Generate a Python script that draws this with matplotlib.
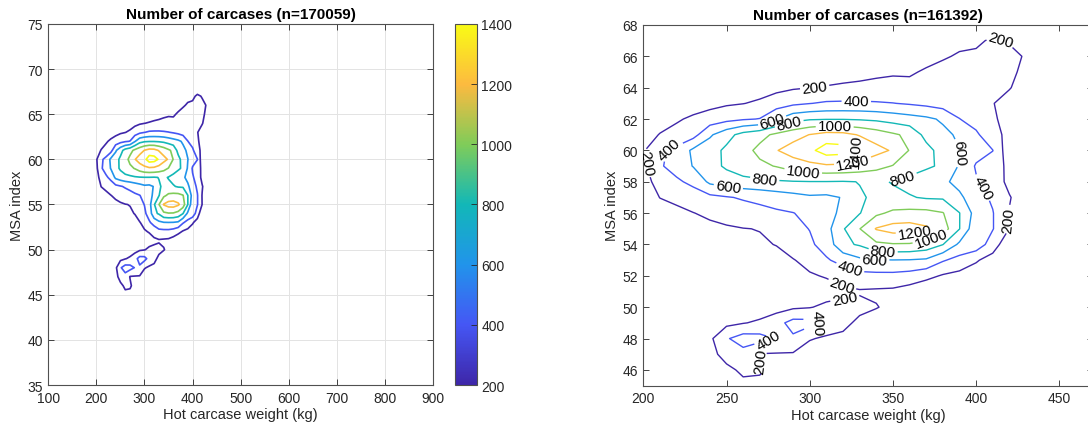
import numpy as np
import matplotlib
matplotlib.use("Agg")
import matplotlib.pyplot as plt
from matplotlib.colors import LinearSegmentedColormap, Normalize
from matplotlib.cm import ScalarMappable

# ---------------- data (binned carcase counts) ----------------
weight_kg = [200, 210, 220, 230, 240, 250, 260, 270, 280, 290, 300, 310, 320,
             330, 340, 350, 360, 370, 380, 390, 400, 410, 420, 430, 440]
msa_index = [45, 46, 47, 48, 49, 50, 51, 52, 53, 54, 55, 56, 57, 58, 59, 60,
             61, 62, 63, 64, 65, 66, 67, 68]

n_msa45 = [0, 0, 0, 10, 40, 100, 150, 140, 60, 30, 10, 0, 0, 0, 0, 0, 0, 0, 0, 0, 0, 0, 0, 0, 0]
n_msa46 = [0, 0, 0, 20, 60, 150, 240, 230, 120, 80, 40, 20, 0, 0, 0, 0, 0, 0, 0, 0, 0, 0, 0, 0, 0]
n_msa47 = [0, 0, 10, 50, 130, 280, 330, 190, 185, 180, 100, 60, 40, 20, 0, 0, 0, 0, 0, 0, 0, 0, 0, 0, 0]
n_msa48 = [0, 0, 20, 80, 160, 380, 490, 470, 390, 370, 215, 170, 150, 100, 50, 20, 0, 0, 0, 0, 0, 0, 0, 0, 0]
n_msa49 = [0, 0, 10, 40, 100, 150, 190, 230, 330, 470, 460, 330, 260, 150, 100, 60, 20, 0, 0, 0, 0, 0, 0, 0, 0]
n_msa50 = [0, 0, 0, 0, 20, 50, 80, 100, 120, 170, 190, 240, 260, 257, 210, 150, 60, 20, 0, 0, 0, 0, 0, 0, 0]
n_msa51 = [0, 0, 0, 0, 10, 20, 30, 50, 80, 120, 150, 120, 150, 180, 170, 160, 110, 40, 20, 0, 0, 0, 0, 0, 0]
n_msa52 = [0, 0, 0, 10, 20, 40, 60, 80, 110, 150, 180, 215, 300, 340, 345, 345, 320, 260, 180, 140, 100, 40, 0, 0, 0]
n_msa53 = [0, 10, 20, 40, 60, 80, 100, 120, 150, 190, 260, 380, 460, 560, 590, 595, 590, 570, 420, 330, 220, 120, 20, 0, 0]
n_msa54 = [10, 30, 60, 80, 110, 130, 150, 180, 205, 290, 370, 470, 760, 820, 960, 985, 980, 930, 805, 560, 522, 300, 50, 10, 0]
n_msa55 = [20, 50, 90, 120, 150, 175, 195, 205, 300, 350, 405, 530, 780, 995, 1213, 1280, 1290, 1230, 1100, 805, 450, 410, 195, 60, 10]
n_msa56 = [30, 90, 140, 195, 240, 280, 310, 340, 370, 395, 450, 540, 640, 790, 960, 1040, 1060, 1060, 1010, 805, 520, 410, 190, 60, 10]
n_msa57 = [60, 205, 260, 310, 350, 385, 420, 450, 490, 530, 570, 560, 610, 790, 815, 840, 815, 780, 775, 640, 480, 370, 215, 70, 10]
n_msa58 = [110, 290, 370, 445, 640, 700, 740, 760, 780, 790, 795, 795, 790, 803, 830, 790, 740, 690, 640, 540, 420, 330, 140, 40, 0]
n_msa59 = [155, 380, 470, 610, 730, 830, 910, 960, 1010, 1090, 1150, 1170, 1160, 1120, 1060, 990, 900, 830, 770, 581, 380, 300, 150, 50, 10]
n_msa60 = [180, 370, 450, 640, 720, 840, 930, 1050, 1190, 1290, 1350, 1500, 1480, 1380, 1260, 1180, 990, 870, 715, 605, 480, 405, 63, 20, 0]
n_msa61 = [110, 210, 270, 327, 570, 730, 870, 940, 1040, 1120, 1205, 1270, 1260, 1185, 1110, 1030, 955, 734, 650, 567, 440, 240, 167, 80, 30]
n_msa62 = [40, 110, 175, 237, 290, 340, 380, 407, 585, 735, 780, 790, 790, 780, 760, 720, 680, 640, 573, 405, 305, 220, 150, 50, 10]
n_msa63 = [0, 20, 60, 100, 140, 175, 195, 230, 300, 360, 395, 425, 430, 430, 420, 405, 380, 350, 310, 280, 250, 210, 100, 30, 0]
n_msa64 = [0, 0, 10, 20, 40, 60, 90, 120, 150, 180, 198, 210, 220, 225, 230, 235, 235, 240, 245, 250, 250, 240, 215, 80, 20]
n_msa65 = [0, 0, 0, 0, 10, 20, 40, 60, 80, 100, 110, 130, 150, 165, 180, 188, 185, 215, 230, 240, 245, 250, 235, 160, 30]
n_msa66 = [0, 0, 0, 0, 0, 0, 10, 20, 30, 45, 60, 70, 90, 100, 115, 125, 140, 160, 190, 210, 230, 245, 230, 190, 60]
n_msa67 = [0, 0, 0, 0, 0, 0, 0, 0, 0, 10, 20, 30, 40, 50, 60, 70, 85, 100, 120, 177, 170, 225, 190, 100, 20]
n_msa68 = [0, 0, 0, 0, 0, 0, 0, 0, 0, 0, 0, 0, 0, 0, 0, 0, 0, 0, 0, 50, 60, 100, 70, 20, 0]

levels = [200, 400, 600, 800, 1000, 1200, 1400]
title_left = "Number of carcases (n=170059)"
title_right = "Number of carcases (n=161392)"
xlabel = "Hot carcase weight (kg)"
ylabel = "MSA index"

counts = np.array([n_msa45, n_msa46, n_msa47, n_msa48, n_msa49, n_msa50, n_msa51,
                   n_msa52, n_msa53, n_msa54, n_msa55, n_msa56, n_msa57, n_msa58,
                   n_msa59, n_msa60, n_msa61, n_msa62, n_msa63, n_msa64, n_msa65,
                   n_msa66, n_msa67, n_msa68], dtype=float)
X, Y = np.meshgrid(weight_kg, msa_index)

# ---------------- style ----------------
parula_pts = [(0.2422, 0.1504, 0.6603), (0.2700, 0.3400, 0.9600),
              (0.1300, 0.5800, 0.9200), (0.0700, 0.7200, 0.7200),
              (0.5000, 0.8000, 0.3500), (0.9900, 0.7300, 0.2500),
              (0.9769, 0.9839, 0.0805)]
parula = LinearSegmentedColormap.from_list("parula", parula_pts)
norm = Normalize(200, 1400)

plt.rcParams["font.family"] = ["Liberation Sans", "DejaVu Sans"]
txt = "#262626"
spine = "#505050"

fig = plt.figure(figsize=(10.88, 4.35), dpi=100)
axL = fig.add_axes([0.0444, 0.1126, 0.3536, 0.830])
cax = fig.add_axes([0.4182, 0.1126, 0.0202, 0.830])
axR = fig.add_axes([0.5913, 0.1113, 0.4129, 0.829])

def style(ax):
    ax.tick_params(direction="in", top=True, right=True, length=4, width=0.6,
                   colors=txt, labelsize=10, pad=4)
    for s in ax.spines.values():
        s.set_color(spine)
        s.set_linewidth(0.8)

# left panel
axL.contour(X, Y, counts, levels=levels, cmap=parula, norm=norm, linewidths=1.2)
axL.set_xlim(100, 900)
axL.set_ylim(35, 75)
axL.set_xticks(range(100, 901, 100))
axL.set_yticks(range(35, 76, 5))
axL.grid(True, color="#e3e3e3", linewidth=0.7)
axL.set_axisbelow(True)
style(axL)
axL.set_title(title_left, fontsize=11, fontweight="bold", pad=4)
axL.set_xlabel(xlabel, fontsize=10.5, color=txt, labelpad=2)
axL.set_ylabel(ylabel, fontsize=10.5, color=txt, labelpad=2)

cb = fig.colorbar(ScalarMappable(norm=norm, cmap=parula), cax=cax, ticks=levels)
cb.outline.set_edgecolor(spine)
cb.outline.set_linewidth(0.8)
cax.tick_params(direction="in", length=4, width=0.6, colors=txt, labelsize=10, pad=3)

# right panel
axR.set_xlim(200, 470)
axR.set_ylim(45, 68)
axR.set_xticks(range(200, 451, 50))
axR.set_yticks(range(46, 69, 2))
style(axR)
axR.set_title(title_right, fontsize=11, fontweight="bold", pad=4)
axR.set_xlabel(xlabel, fontsize=10.5, color=txt, labelpad=2)
axR.set_ylabel(ylabel, fontsize=10.5, color=txt, labelpad=2)

label_spots = {
    200: [(303, 64.0), (414, 66.8), (202, 59.2), (422, 55.6), (319, 51.3), (321, 50.6), (268, 46.5)],
    400: [(328, 63.0), (216, 60.0), (400, 57.4), (324, 52.4), (305, 49.0), (275, 48.0)],
    600: [(278, 61.7), (251, 57.6), (388, 59.9), (339, 53.0)],
    800: [(288, 61.6), (273, 58.2), (356, 58.2), (344, 53.5)],
    1000: [(315, 61.5), (296, 58.6), (372, 54.6)],
    1200: [(326, 59.2), (363, 54.8)],
    1400: [(330, 60.3)],
}
for lev in levels:
    csl = axR.contour(X, Y, counts, levels=[lev], colors=[parula(norm(lev))],
                      linewidths=1.0)
    csl.clabel(manual=label_spots[lev], inline=True, inline_spacing=2,
               fmt="%d", fontsize=11, colors="black")

fig.savefig("out.png", dpi=100)
